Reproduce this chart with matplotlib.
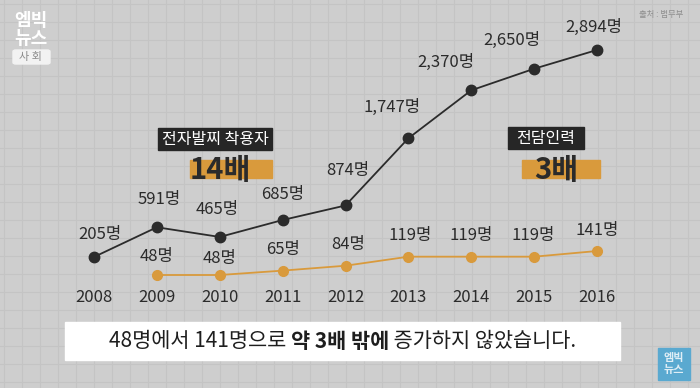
import matplotlib
matplotlib.use("Agg")
import matplotlib.pyplot as plt
from matplotlib.patches import FancyBboxPatch, Rectangle
from matplotlib.transforms import blended_transform_factory

plt.rcParams['font.family'] = ['Noto Sans CJK KR', 'DejaVu Sans']

# ---- data ----
years = [2008, 2009, 2010, 2011, 2012, 2013, 2014, 2015, 2016]
wearers = [205, 591, 465, 685, 874, 1747, 2370, 2650, 2894]
staff_years = [2009, 2010, 2011, 2012, 2013, 2014, 2015, 2016]
staff = [48, 48, 65, 84, 119, 119, 119, 141]
wearer_labels = ["205명", "591명", "465명", "685명", "874명", "1,747명", "2,370명", "2,650명", "2,894명"]
staff_labels = ["48명", "48명", "65명", "84명", "119명", "119명", "119명", "141명"]

# ---- style ----
BG = "#cecece"
GRID = "#c4c4c4"
DARK = "#2b2b2b"
ORANGE = "#d99a3c"
W, H = 700, 388

fig = plt.figure(figsize=(7, 3.88), dpi=100)
fig.patch.set_facecolor(BG)

# background grid
bg = fig.add_axes([0, 0, 1, 1], zorder=0)
bg.set_xlim(0, W); bg.set_ylim(0, H)
bg.set_facecolor(BG)
bg.axis('off')
for gx in range(4, W, 18):
    bg.axvline(gx, color=GRID, lw=0.8, zorder=0)
for gy in range(6, H, 18):
    bg.axhline(gy, color=GRID, lw=0.8, zorder=0)

# main axes (black series)
ax = fig.add_axes([0, 0, 1, 1], zorder=2)
ax.patch.set_alpha(0)
ax.set_xlim(2006.505, 2017.638)
ax.set_ylim(-1497, 3543)
ax.axis('off')

ax2 = ax.twinx()
ax2.set_ylim(-390, 1114)
ax2.axis('off')

ax.plot(years, wearers, color=DARK, lw=1.3, marker='o', ms=7.5,
        mfc=DARK, mec=DARK, zorder=3)
ax2.plot(staff_years, staff, color=ORANGE, lw=1.3, marker='o', ms=7,
         mfc=ORANGE, mec=ORANGE, zorder=3)

w_off = [(4, 10), (2, 14), (-2, 14), (0, 12), (2, 19), (-12, 16), (-18, 14), (-16, 14), (-2, 10)]
for x, y, t, o in zip(years, wearers, wearer_labels, w_off):
    ax.annotate(t, (x, y), xytext=o, textcoords='offset points', ha='center',
                va='bottom', fontsize=12, color=DARK, zorder=4)

s_off = [(0, 7), (0, 6), (0, 9), (2, 9), (1, 9), (0, 9), (-1, 9), (0, 9)]
for x, y, t, o in zip(staff_years, staff, staff_labels, s_off):
    ax2.annotate(t, (x, y), xytext=o, textcoords='offset points', ha='center',
                 va='bottom', fontsize=12, color=DARK, zorder=4)

# year labels
trans = blended_transform_factory(ax.transData, fig.transFigure)
for x in years:
    ax.text(x, 1 - 298 / H, str(x), transform=trans, ha='center', va='center',
            fontsize=12, color=DARK)

def px(x, y):
    return x / W, 1 - y / H

# label boxes
def dark_box(x0, y0, x1, y1, text):
    fig.patches.append(Rectangle(px(x0, y1), (x1 - x0) / W, (y1 - y0) / H,
                                 transform=fig.transFigure, color="#262626", zorder=5))
    fig.text(*px((x0 + x1) / 2, (y0 + y1) / 2), text, ha='center', va='center',
             fontsize=11.5, color='white', zorder=6)

def orange_bar(x0, y0, x1, y1, text, tx):
    fig.patches.append(Rectangle(px(x0, y1), (x1 - x0) / W, (y1 - y0) / H,
                                 transform=fig.transFigure, color=ORANGE, zorder=5))
    fig.text(*px(tx, (y0 + y1) / 2 + 1), text, ha='center', va='center',
             fontsize=21, fontweight='bold', color=DARK, zorder=6)

dark_box(158, 128, 272, 150, "전자발찌 착용자")
orange_bar(190, 160, 272, 178, "14배", 220)
dark_box(508, 127, 584, 149, "전담인력")
orange_bar(522, 160, 600, 178, "3배", 556)

# logo top left
fig.text(*px(31, 20), "엠빅", ha='center', va='center', fontsize=13,
         fontweight='bold', color='white')
fig.text(*px(31, 39), "뉴스", ha='center', va='center', fontsize=13,
         fontweight='bold', color='white')
fig.patches.append(FancyBboxPatch(px(13, 64), 37 / W, 14 / H,
                                  boxstyle="round,pad=0,rounding_size=0.004",
                                  transform=fig.transFigure, color='#f2f2f2', zorder=5))
fig.text(*px(31, 57), "사 회", ha='center', va='center', fontsize=8,
         color='#8a8a8a', zorder=6)

# source
fig.text(*px(661, 14), "출처 : 법무부", ha='center', va='center', fontsize=6,
         color='#8e8e8e')

# caption box
fig.patches.append(Rectangle(px(65, 360), (620 - 65) / W, 38 / H,
                             transform=fig.transFigure, color='white', zorder=5))
parts = [("48명에서 141명으로 ", 'normal'), ("약 3배 밖에", 'bold'),
         (" 증가하지 않았습니다.", 'normal')]
fig.canvas.draw()
r = fig.canvas.get_renderer()
texts = []
total = 0
for s, wgt in parts:
    t = fig.text(0, 1 - 341 / H, s, ha='left', va='center', fontsize=15,
                 fontweight=wgt, color='#1e1e1e', zorder=6)
    wdt = t.get_window_extent(r).width
    texts.append((t, wdt))
    total += wdt
cx = 343
start = cx - total / 2
for t, wdt in texts:
    t.set_x(start / W)
    start += wdt

# small logo bottom right
fig.patches.append(Rectangle(px(658, 380), 32 / W, 32 / H,
                             transform=fig.transFigure, color='#5aa9d0', zorder=5))
fig.text(*px(674, 357), "엠빅", ha='center', va='center', fontsize=8,
         fontweight='bold', color='#dfeef6', zorder=6)
fig.text(*px(674, 370), "뉴스", ha='center', va='center', fontsize=8,
         fontweight='bold', color='#dfeef6', zorder=6)

fig.savefig("out.png", dpi=100, facecolor=BG)
